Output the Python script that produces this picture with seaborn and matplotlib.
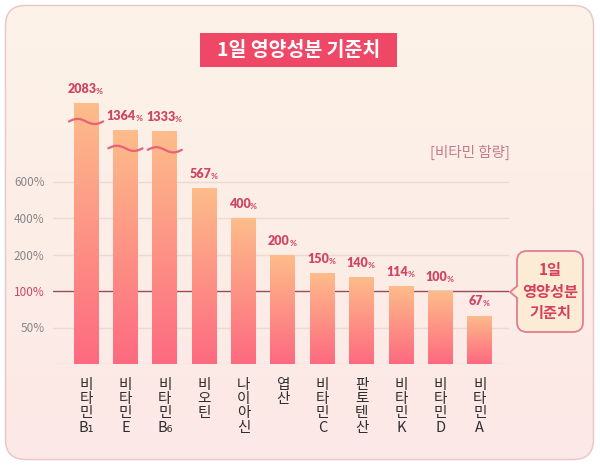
import numpy as np
import pandas as pd
import matplotlib
matplotlib.use("Agg")
import matplotlib.pyplot as plt
import seaborn as sns
from matplotlib.patches import FancyBboxPatch, Polygon, Rectangle
from matplotlib.transforms import blended_transform_factory
from matplotlib.colors import LinearSegmentedColormap

# ---------- data ----------
nutrients = ["비\n타\n민\nB₁", "비\n타\n민\nE", "비\n타\n민\nB₆", "비\n오\n틴",
             "나\n이\n아\n신", "엽\n산", "비\n타\n민\nC", "판\n토\n텐\n산",
             "비\n타\n민\nK", "비\n타\n민\nD", "비\n타\n민\nA"]
percent = [2083, 1364, 1333, 567, 400, 200, 150, 140, 114, 100, 67]
ytick_values = [50, 100, 200, 400, 600]
ytick_labels = ["50%", "100%", "200%", "400%", "600%"]
reference_value = 100
break_above = 600

# ---------- colours ----------
BAR_TOP = "#fdbd8a"
BAR_BOTTOM = "#fd6a80"
LABEL = "#cf4562"
TITLE_BG = "#ee4866"
GRID = "#eadbd0"
REF_LINE = "#9c4a56"
TICK_GRAY = "#8c8585"
BG_TOP = "#fdf3e8"
BG_BOTTOM = "#fce8e6"
FRAME_EDGE = "#e8c9c9"

sns.set_style("white")
plt.rcParams["font.family"] = ["Noto Sans CJK KR", "DejaVu Sans"]
NUM_FONT = ["Lato", "DejaVu Sans"]

# ---------- broken, uneven y scale (even tick spacing, log-ish above 600) ----------
SCALE_V = [0, 50, 100, 200, 400, 600]
SCALE_U = [0, 1, 2, 3, 4, 5]
K = 1.74


def fwd(v):
    v = np.asarray(v, dtype=float)
    low = np.where(v < 0, v / 50.0, np.interp(v, SCALE_V, SCALE_U))
    high = 5 + K * np.log(np.maximum(v, 600) / 600)
    return np.where(v <= 600, low, high)


def inv(u):
    u = np.asarray(u, dtype=float)
    low = np.where(u < 0, u * 50.0, np.interp(u, SCALE_U, SCALE_V))
    high = 600 * np.exp((np.maximum(u, 5) - 5) / K)
    return np.where(u <= 5, low, high)


fig = plt.figure(figsize=(6, 4.66), dpi=100)

# ---------- background card ----------
bg = fig.add_axes([0, 0, 1, 1], zorder=-1)
frame = FancyBboxPatch((5.5, 5.5), 588, 454, boxstyle="round,pad=0,rounding_size=20",
                       fc="none", ec=FRAME_EDGE, lw=1.1, zorder=2)
bg_cmap = LinearSegmentedColormap.from_list("bg", [BG_TOP, BG_BOTTOM])
bg_img = bg.imshow(np.linspace(0, 1, 256).reshape(-1, 1), cmap=bg_cmap, aspect="auto",
                   extent=(5, 594, 460, 5), zorder=1)
bg.add_patch(frame)
bg_img.set_clip_path(frame)
bg.set_xlim(0, 600)
bg.set_ylim(466, 0)
bg.axis("off")

# title box
bg.add_patch(Rectangle((200, 33), 197, 34, fc=TITLE_BG, ec="none", zorder=3))
bg.text(298.5, 50, "1일 영양성분 기준치", color="white", fontsize=14,
        fontweight="bold", ha="center", va="center", zorder=4)
bg.text(510, 152, "[비타민 함량]", color="#c8788a", fontsize=10.5, ha="right", va="center")

# callout
callout = FancyBboxPatch((517, 251), 66, 81, boxstyle="round,pad=0,rounding_size=10",
                         fc="#fdecd5", ec="#e07f8f", lw=1.3, zorder=3)
bg.add_patch(callout)
bg.add_patch(Polygon([(518.6, 285.5), (510, 292), (518.6, 298.5)], closed=True,
                     fc="#fdecd5", ec="none", zorder=4))
bg.plot([517.4, 510, 517.4], [285.8, 292, 298.2], color="#e07f8f", lw=1.3, zorder=5)
bg.text(550, 291.5, "1일\n영양성분\n기준치", color="#d6405c", fontsize=11,
        fontweight="bold", ha="center", va="center", linespacing=1.45, zorder=6)

# ---------- main chart ----------
ax = fig.add_axes([53 / 600, (466 - 364) / 466, 456 / 600, 7.5 * 36.5 / 466])
ax.patch.set_alpha(0)

df = pd.DataFrame({"nutrient": nutrients, "percent": percent})
sns.barplot(data=df, x="nutrient", y="percent", ax=ax, width=0.635,
            color=BAR_TOP, saturation=1, zorder=3)

ax.set_yscale("function", functions=(fwd, inv))
ax.set_ylim(0, float(inv(7.5)))
ax.set_xlim(-0.84, 10.74)

for y in [0] + ytick_values:
    if y == reference_value:
        ax.axhline(y, color=REF_LINE, lw=1.0, zorder=1)
    else:
        ax.axhline(y, color=GRID, lw=1.0, zorder=1)

ax.set_yticks(ytick_values, ytick_labels)
for lbl, val in zip(ax.get_yticklabels(), ytick_values):
    lbl.set_color(LABEL if val == reference_value else TICK_GRAY)
    lbl.set_fontsize(8.5)
    lbl.set_fontweight("light")
ax.set_xticks(range(len(nutrients)), nutrients, fontsize=10.5, color="#2e2e2e",
              fontweight="medium", linespacing=1.02, va="top")
ax.tick_params(axis="x", length=0, pad=10)
ax.tick_params(axis="y", length=0, pad=6)
ax.set_xlabel("")
ax.set_ylabel("")
sns.despine(ax=ax, left=True, bottom=True)

# gradient fill for each bar, drawn in axes-fraction height so it looks even
blend = blended_transform_factory(ax.transData, ax.transAxes)
to_axes = ax.transData + ax.transAxes.inverted()
grad = np.linspace(0, 1, 256).reshape(-1, 1)
bar_cmap = LinearSegmentedColormap.from_list("bar", [BAR_BOTTOM, BAR_TOP])
ax_h_px = ax.get_position().height * fig.get_figheight() * fig.dpi
for p in list(ax.patches):
    top = to_axes.transform((p.get_x(), p.get_height()))[1]
    base = to_axes.transform((p.get_x(), 0))[1]
    ax.imshow(grad, cmap=bar_cmap, origin="lower", aspect="auto", interpolation="bilinear",
              extent=(p.get_x(), p.get_x() + p.get_width(), base, top),
              transform=blend, zorder=3)
    p.set_visible(False)
ax.set_ylim(0, float(inv(7.5)))
ax.set_xlim(-0.84, 10.74)

# value labels and break marks
t = np.linspace(0, 1, 80)
for i, v in enumerate(percent):
    num = ax.annotate(f"{v}", (i, v), xytext=(-3, 5.5), textcoords="offset points",
                      ha="center", va="bottom", fontsize=9, fontweight="heavy",
                      color=LABEL, family=NUM_FONT, zorder=5, annotation_clip=False)
    ax.annotate("%", xy=(1, 0), xycoords=num, xytext=(-0.3, 0), textcoords="offset points",
                ha="left", va="bottom", fontsize=6, fontweight="bold",
                color=LABEL, family=NUM_FONT, zorder=5, annotation_clip=False)
    if v > break_above:
        top = to_axes.transform((i, v))[1]
        xs = i + (t - 0.5) * 0.87
        ys = top - 19 / ax_h_px + 2.6 / ax_h_px * np.sin(2 * np.pi * t)
        ax.plot(xs, ys, transform=blend, color="#e8617a", lw=1.6, zorder=4,
                clip_on=False, solid_capstyle="round")

fig.savefig("out.png", dpi=100)
